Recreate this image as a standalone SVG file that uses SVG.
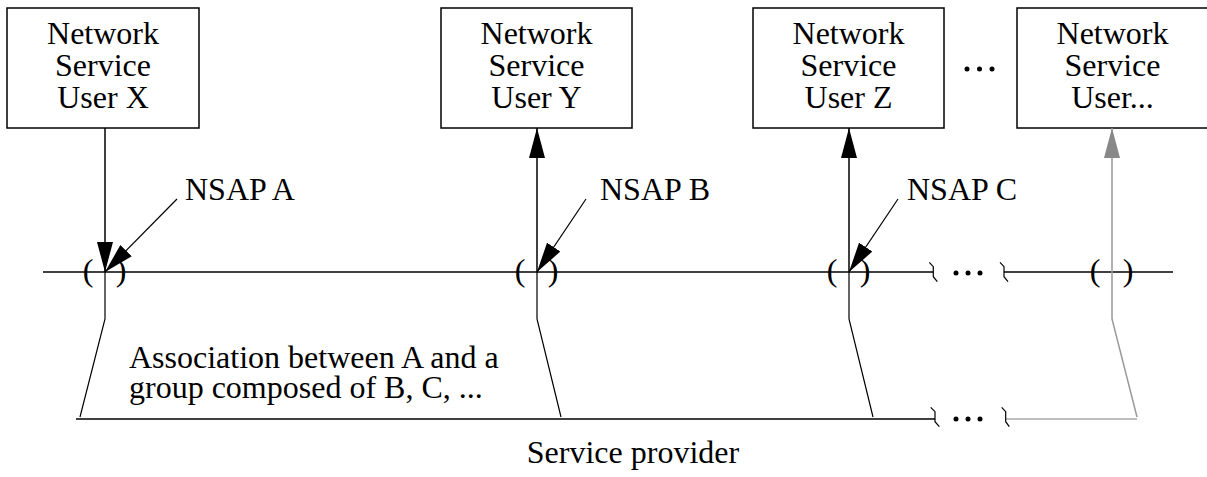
<svg xmlns="http://www.w3.org/2000/svg" width="1207" height="477" viewBox="0 0 1207 477">
<style>
  text { font-family: "Liberation Serif", "Times New Roman", serif; font-size: 32px; fill: #000; }
  .c { text-anchor: middle; }
  .box { fill: #fff; stroke: #000; stroke-width: 1.5; }
  .ln { fill: none; stroke: #000; stroke-width: 1.5; }
  .thin { fill: none; stroke: #000; stroke-width: 1.2; }
  .gr { fill: none; stroke: #aaa; stroke-width: 1.5; }
  .grl { fill: none; stroke: #999; stroke-width: 1.5; }
  .dot { fill: #000; }
</style>
<defs>
  <marker id="ah" viewBox="0 0 30 16" refX="30" refY="8" markerWidth="30" markerHeight="16" orient="auto" markerUnits="userSpaceOnUse">
    <path d="M0,0 L30,8 L0,16 Z" fill="#000"/>
  </marker>
  <marker id="ahg" viewBox="0 0 30 16" refX="30" refY="8" markerWidth="30" markerHeight="16" orient="auto" markerUnits="userSpaceOnUse">
    <path d="M0,0 L30,8 L0,16 Z" fill="#888"/>
  </marker>
</defs>

<g id="userX">
  <rect class="box" x="7" y="8" width="192" height="120"/>
  <text class="c" x="103" y="44">Network</text>
  <text class="c" x="103" y="76">Service</text>
  <text class="c" x="103" y="108">User X</text>
</g>
<g id="userY">
  <rect class="box" x="441" y="8" width="191" height="120"/>
  <text class="c" x="536.5" y="44">Network</text>
  <text class="c" x="536.5" y="76">Service</text>
  <text class="c" x="536.5" y="108">User Y</text>
</g>
<g id="userZ">
  <rect class="box" x="753" y="8" width="191" height="120"/>
  <text class="c" x="848.5" y="44">Network</text>
  <text class="c" x="848.5" y="76">Service</text>
  <text class="c" x="848.5" y="108">User Z</text>
</g>
<g id="userN">
  <rect class="box" x="1017" y="8" width="191" height="120"/>
  <text class="c" x="1112.5" y="44">Network</text>
  <text class="c" x="1112.5" y="76">Service</text>
  <text class="c" x="1112.5" y="108">User...</text>
</g>
<g id="topDots">
  <circle class="dot" cx="967" cy="69" r="2.5"/>
  <circle class="dot" cx="979.5" cy="69" r="2.5"/>
  <circle class="dot" cx="992" cy="69" r="2.5"/>
</g>

<g id="nsapLine">
  <path class="ln" d="M43,272 L933.3,272"/>
  <path class="ln" d="M1004,272 L1173,272"/>
  <path class="thin" d="M929.3,262.3 L933.3,266.7 L933.3,276.7 L937.3,281.7"/>
  <path class="thin" d="M1000,262.3 L1004,266.7 L1004,276.7 L1008,281.7"/>
  <circle class="dot" cx="956" cy="273" r="2.5"/>
  <circle class="dot" cx="968" cy="273" r="2.5"/>
  <circle class="dot" cx="980" cy="273" r="2.5"/>
  <text class="c" x="88" y="281">(</text>
  <text class="c" x="121" y="281">)</text>
  <text class="c" x="520" y="281">(</text>
  <text class="c" x="553" y="281">)</text>
  <text class="c" x="832" y="281">(</text>
  <text class="c" x="865" y="281">)</text>
  <text class="c" x="1095" y="281">(</text>
  <text class="c" x="1128" y="281">)</text>
</g>

<g id="providerLine">
  <path class="ln" d="M76,419 L935,419"/>
  <path class="gr" d="M1005.7,419 L1137,419"/>
  <path class="thin" d="M930.7,407.3 L935,411.7 L935,421.7 L939.3,426.7"/>
  <path class="thin" d="M1001.7,407.3 L1005.7,411.7 L1005.7,421.7 L1009.3,426.7"/>
  <circle class="dot" cx="956" cy="419" r="2.5"/>
  <circle class="dot" cx="968" cy="419" r="2.5"/>
  <circle class="dot" cx="980" cy="419" r="2.5"/>
</g>

<g id="connectors">
  <path class="ln" d="M105,128 L105,272" marker-end="url(#ah)"/>
  <path class="thin" d="M105,272 L105,319 L80,417"/>
  <path class="thin" d="M561,417 L537,319 L537,272"/>
  <path class="ln" d="M537,272 L537,128" marker-end="url(#ah)"/>
  <path class="thin" d="M873,417 L849,319 L849,272"/>
  <path class="ln" d="M849,272 L849,128" marker-end="url(#ah)"/>
  <path class="grl" d="M1137,417 L1112,319 L1112,128" marker-end="url(#ahg)"/>
  <path class="thin" d="M177,199 L105,272" marker-end="url(#ah)"/>
  <path class="thin" d="M586,199 L537,272" marker-end="url(#ah)"/>
  <path class="thin" d="M898,199 L849,272" marker-end="url(#ah)"/>
</g>

<g id="labels">
  <text x="185" y="200">NSAP A</text>
  <text x="600" y="200">NSAP B</text>
  <text x="907" y="200">NSAP C</text>
  <text x="129" y="368">Association between A and a</text>
  <text x="129" y="398">group composed of B, C, ...</text>
  <text class="c" x="633" y="463">Service provider</text>
</g>
</svg>
